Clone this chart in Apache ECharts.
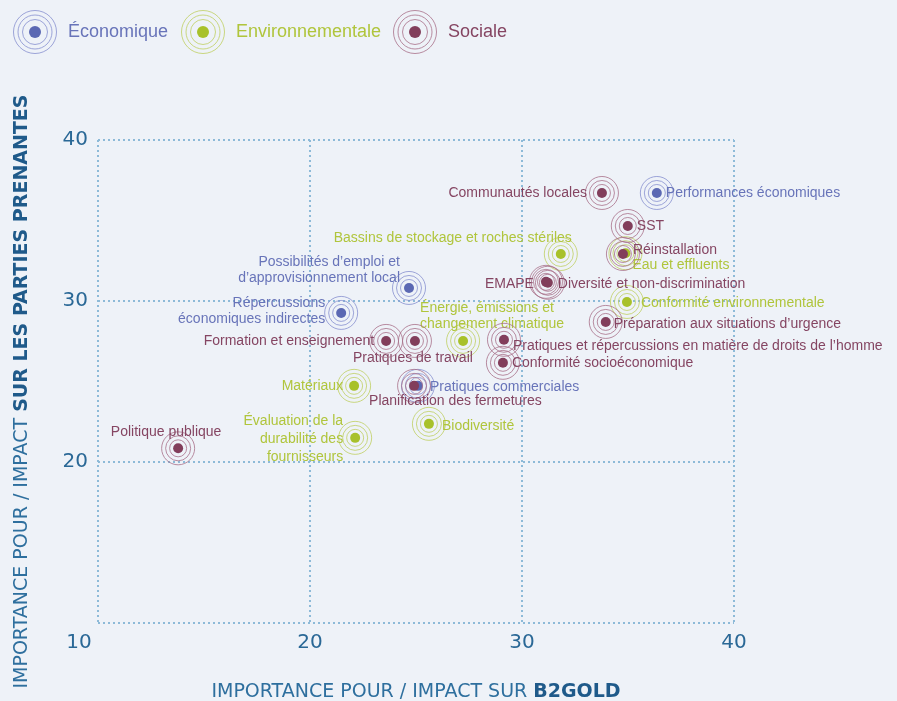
<!DOCTYPE html>
<html><head><meta charset="utf-8">
<script src="https://cdn.jsdelivr.net/npm/echarts@6/dist/echarts.min.js"></script>
<style>html,body{margin:0;padding:0;background:#eef2f8;}#c{width:897px;height:701px;}</style>
</head><body><div id="c"></div>
<script>
// ---- DATA ----
const categories = ['Économique', 'Environnementale', 'Sociale'];

const econNames = ['Performances économiques', 'Possibilités d’emploi et\nd’approvisionnement local', 'Répercussions\néconomiques indirectes', 'Pratiques commerciales'];
const econX = [36.36, 24.67, 21.47, 25.09];
const econY = [36.71, 30.81, 29.26, 24.73];

const envNames = ['Bassins de stockage et roches stériles', 'Eau et effluents', 'Conformité environnementale', 'Énergie, émissions et\nchangement climatique', 'Matériaux', 'Biodiversité', 'Évaluation de la\ndurabilité des\nfournisseurs'];
const envX = [31.83, 34.88, 34.95, 27.22, 22.08, 25.61, 22.13];
const envY = [32.92, 32.97, 29.94, 27.52, 24.73, 22.37, 21.50];

const socNames = ['Communautés locales', 'SST', 'Réinstallation', 'EMAPE', 'Diversité et non-discrimination', 'Préparation aux situations d’urgence', 'Pratiques et répercussions en matière de droits de l’homme', 'Conformité socioéconomique', 'Pratiques de travail', 'Formation et enseignement', 'Planification des fermetures', 'Politique publique'];
const socX = [33.77, 34.99, 34.76, 31.13, 31.22, 33.95, 29.15, 29.10, 24.95, 23.59, 24.91, 13.78];
const socY = [36.71, 34.66, 32.92, 31.19, 31.13, 28.70, 27.59, 26.16, 27.52, 27.52, 24.73, 20.85];

const axisTicks = [10, 20, 30, 40];

// ---- STYLE ----
const COLORS = {
  'Économique': {dot: '#5b68b3', ring: '#8790d0', text: '#6874b9'},
  'Environnementale': {dot: '#a8c12a', ring: '#bfd062', text: '#b0c53c'},
  'Sociale': {dot: '#823e5b', ring: '#a9708a', text: '#854562'}
};
// label placement: [align, dx, dy, lineHeight]
const LABEL_POS = {
  'Performances économiques': ['left', 9, 0],
  'Possibilités d’emploi et\nd’approvisionnement local': ['right', -9, -18, 16],
  'Répercussions\néconomiques indirectes': ['right', -16, -2, 16],
  'Pratiques commerciales': ['left', 12, 1],
  'Bassins de stockage et roches stériles': ['right', 11, -16],
  'Eau et effluents': ['left', 7, 12],
  'Conformité environnementale': ['left', 14, 1],
  'Énergie, émissions et\nchangement climatique': ['left', -43, -25, 16],
  'Matériaux': ['right', -11, 0],
  'Biodiversité': ['left', 13, 2],
  'Évaluation de la\ndurabilité des\nfournisseurs': ['right', -12, 1, 18],
  'Communautés locales': ['right', -15, 0],
  'SST': ['left', 9, 0],
  'Réinstallation': ['left', 10, -4],
  'EMAPE': ['right', -12, 2],
  'Diversité et non-discrimination': ['left', 10, 1],
  'Préparation aux situations d’urgence': ['left', 8, 2],
  'Pratiques et répercussions en matière de droits de l’homme': ['left', 9, 6],
  'Conformité socioéconomique': ['left', 9, 0],
  'Pratiques de travail': ['center', -2, 17],
  'Formation et enseignement': ['right', -12, 0],
  'Planification des fermetures': ['left', -45, 15],
  'Politique publique': ['center', -12, -16]
};
const LABEL_FONT = '14px "Liberation Sans", Arial, sans-serif';
const AXIS_FONT = '"DejaVu Sans", sans-serif';

function iconFor(cat) {
  const c = COLORS[cat];
  const svg = '<svg xmlns="http://www.w3.org/2000/svg" width="46" height="46" viewBox="0 0 46 46">' +
    '<circle cx="23" cy="23" r="21.5" fill="none" stroke="' + c.ring + '" stroke-width="1" opacity="0.8"/>' +
    '<circle cx="23" cy="23" r="17" fill="none" stroke="' + c.ring + '" stroke-width="1" opacity="0.8"/>' +
    '<circle cx="23" cy="23" r="12.5" fill="none" stroke="' + c.ring + '" stroke-width="1" opacity="0.8"/>' +
    '<circle cx="23" cy="23" r="6" fill="' + c.dot + '"/></svg>';
  return 'image://data:image/svg+xml;charset=utf-8,' + encodeURIComponent(svg);
}

function makeSeries(cat, names, xs, ys) {
  const c = COLORS[cat];
  return {
    type: 'custom',
    name: cat,
    coordinateSystem: 'cartesian2d',
    encode: {x: 0, y: 1},
    data: names.map((n, i) => [xs[i], ys[i], n]),
    renderItem: function (params, api) {
      const p = api.coord([api.value(0), api.value(1)]);
      const name = names[params.dataIndex];
      const lp = LABEL_POS[name] || ['left', 10, 0];
      const children = [];
      [16.5, 12.5, 8.5].forEach(r => children.push({
        type: 'circle', shape: {cx: p[0], cy: p[1], r: r},
        style: {fill: 'none', stroke: c.ring, lineWidth: 1, opacity: 0.8}
      }));
      children.push({type: 'circle', shape: {cx: p[0], cy: p[1], r: 5}, style: {fill: c.dot}});
      children.push({
        type: 'text', x: p[0] + lp[1], y: p[1] + lp[2],
        style: {text: name, fill: c.text, font: LABEL_FONT, align: lp[0], verticalAlign: 'middle', lineHeight: lp[3] || 16}
      });
      return {type: 'group', children: children};
    }
  };
}

const chart = echarts.init(document.getElementById('c'));
const legendLefts = [12, 180, 392];
const option = {
  backgroundColor: '#eef2f8',
  animation: false,
  legend: categories.map((cat, i) => ({
    left: legendLefts[i], top: 9, padding: 0, itemWidth: 46, itemHeight: 46, selectedMode: false,
    data: [{name: cat, icon: iconFor(cat)}],
    textStyle: {color: COLORS[cat].text, fontSize: 18, fontFamily: '"Liberation Sans", Arial, sans-serif', padding: [0, 0, 0, 5]}
  })),
  grid: {left: 98, right: 163, top: 140, bottom: 78, outerBoundsMode: 'none', containLabel: false},
  xAxis: {
    type: 'value', min: axisTicks[0], max: axisTicks[axisTicks.length - 1], interval: 10,
    axisLine: {show: false}, axisTick: {show: false},
    splitLine: {show: true, lineStyle: {type: [2, 3], width: 2, color: '#8dbad8'}},
    axisLabel: {
      margin: 10, color: '#2a6896', fontSize: 20, fontFamily: AXIS_FONT,
      formatter: v => v === axisTicks[0] ? '{s|' + v + '}' : String(v),
      rich: {s: {padding: [0, 38, 0, 0], color: '#2a6896', fontSize: 20, fontFamily: AXIS_FONT}}
    },
    name: '{a|IMPORTANCE POUR / IMPACT SUR }{b|B2GOLD}',
    nameLocation: 'middle', nameGap: 60,
    nameTextStyle: {rich: {
      a: {fontSize: 19, fontFamily: AXIS_FONT, color: '#2e6f9e'},
      b: {fontSize: 19, fontFamily: AXIS_FONT, fontWeight: 'bold', color: '#1f5a8a'}
    }}
  },
  yAxis: {
    type: 'value', min: axisTicks[0], max: axisTicks[axisTicks.length - 1], interval: 10,
    axisLine: {show: false}, axisTick: {show: false},
    splitLine: {show: true, lineStyle: {type: [2, 3], width: 2, color: '#8dbad8'}},
    axisLabel: {showMinLabel: false, margin: 10, color: '#2a6896', fontSize: 20, fontFamily: AXIS_FONT, padding: [0, 0, 8, 0]},
    name: '{a|IMPORTANCE POUR / IMPACT }{b|SUR LES PARTIES PRENANTES}',
    nameLocation: 'middle', nameGap: 66, nameRotate: 90,
    nameTextStyle: {padding: [0, 20, 0, 0], rich: {
      a: {fontSize: 19, fontFamily: AXIS_FONT, color: '#2e6f9e'},
      b: {fontSize: 19, fontFamily: AXIS_FONT, fontWeight: 'bold', color: '#1f5a8a'}
    }}
  },
  series: [
    makeSeries('Économique', econNames, econX, econY),
    makeSeries('Environnementale', envNames, envX, envY),
    makeSeries('Sociale', socNames, socX, socY)
  ]
};
chart.setOption(option);
</script>
</body></html>
